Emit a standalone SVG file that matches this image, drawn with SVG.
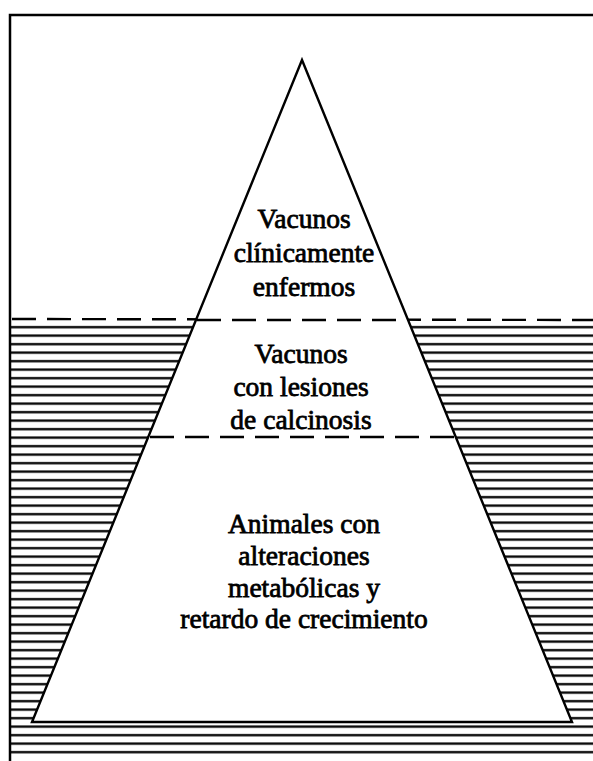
<svg xmlns="http://www.w3.org/2000/svg" width="593" height="761" viewBox="0 0 593 761">
<style>
.lbl{font-family:"Liberation Serif","Times New Roman",serif;font-size:27.5px;fill:#000;stroke:#000;stroke-width:0.8;text-anchor:middle}
.dash{stroke:#000;stroke-width:2.4;stroke-dasharray:24 11;fill:none}
</style>
<defs>
<pattern id="water" x="0" y="323" width="593" height="8.5" patternUnits="userSpaceOnUse">
<rect x="0" y="3" width="593" height="2.3" fill="#000"/>
</pattern>
</defs>
<rect width="593" height="761" fill="#fff"/>
<g id="frame">
<path d="M10,761 V15 H593" fill="none" stroke="#000" stroke-width="2.5"/>
</g>
<g id="water-surface">
<rect x="10" y="323" width="583" height="433" fill="url(#water)"/>
<line class="dash" x1="12" y1="319" x2="593" y2="320"/>
</g>
<g id="pyramid">
<polygon points="302,60 32,722 572,722" fill="#fff" stroke="#000" stroke-width="2.4" stroke-linejoin="miter"/>
</g>
<g id="connectors">
<line class="dash" x1="197" y1="320" x2="407" y2="320"/>
<line class="dash" x1="150" y1="437" x2="455" y2="437"/>
</g>
<g id="tier-top">
<text class="lbl" x="304" y="228">Vacunos</text>
<text class="lbl" x="304" y="262">clínicamente</text>
<text class="lbl" x="304" y="296">enfermos</text>
</g>
<g id="tier-middle">
<text class="lbl" x="301" y="363">Vacunos</text>
<text class="lbl" x="301" y="396">con lesiones</text>
<text class="lbl" x="301" y="429">de calcinosis</text>
</g>
<g id="tier-bottom">
<text class="lbl" x="304" y="533">Animales con</text>
<text class="lbl" x="304" y="565">alteraciones</text>
<text class="lbl" x="304" y="597">metabólicas y</text>
<text class="lbl" x="304" y="628">retardo de crecimiento</text>
</g>
</svg>
